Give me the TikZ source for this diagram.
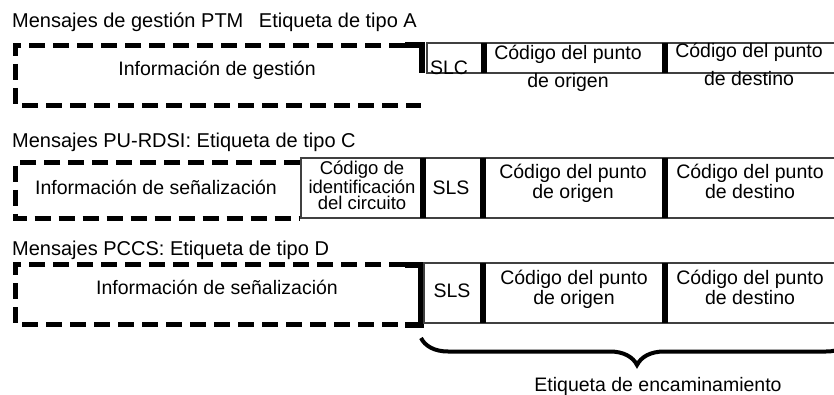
\documentclass[tikz,border=0pt]{standalone}
\usepackage{fontspec}
\setmainfont{Liberation Sans}
\usetikzlibrary{decorations.pathreplacing}
\begin{document}
\begin{tikzpicture}[x=1pt,y=-1pt,
  txt/.style={inner sep=0pt, anchor=base, font=\fontsize{19.5}{20}\selectfont, align=center},
  txtA/.style={txt, font=\fontsize{19.5}{28}\selectfont},
  cictxt/.style={txt, font=\fontsize{18.5}{17}\selectfont},
  titletxt/.style={inner sep=0pt, anchor=base west, font=\fontsize{20}{24}\selectfont},
  dashbox/.style={draw=black, line width=5pt, dash pattern=on 16pt off 8pt},
  thinbox/.style={draw=black!75, line width=1.1pt},
  bar/.style={draw=black, line width=6pt},
  ]
\useasboundingbox (0,0) rectangle (834,395);
\clip (0,0) rectangle (834,395);
% ---------- Row A ----------
\node[titletxt] (tA) at (12,28) {Mensajes de gestión PTM\hspace{0.5em} Etiqueta de tipo A};
\draw[dashbox] (405,45.5) -- (15.5,45.5) -- (15.5,105.5) -- (421,105.5);
\draw[bar] (405,45.5) -- (421.5,45.5) -- (421.5,73);
\draw[thinbox] (427,43) rectangle (850,73);
\draw[bar] (483.5,43) -- (483.5,73);
\draw[bar] (665,43) -- (665,73);
\node[txt] (infoA) at (217,76) {Información de gestión};
\node[txt] (slcA) at (449,75) {SLC};
\node[txtA] (origA) at (568,88) {Código del punto\\de origen};
\node[txtA] (destA) at (749,86) {Código del punto\\de destino};
% ---------- Row C ----------
\node[titletxt] (tC) at (12,148) {Mensajes PU-RDSI: Etiqueta de tipo C};
\draw[dashbox] (300,162.5) -- (15.5,162.5) -- (15.5,219) -- (300,219);
\draw[thinbox] (301,158) rectangle (850,218);
\draw[bar] (422.5,158) -- (422.5,218);
\draw[bar] (483,158) -- (483,218);
\draw[bar] (665,158) -- (665,218);
\node[txt] (infoC) at (156,195) {Información de señalización};
\node[cictxt] (cic) at (362,210) {Código de\\identificación\\del circuito};
\node[txt] (slsC) at (451,195) {SLS};
\node[txt] (origC) at (573,199) {Código del punto\\de origen};
\node[txt] (destC) at (750,199) {Código del punto\\de destino};
% ---------- Row D ----------
\node[titletxt] (tD) at (12,255) {Mensajes PCCS: Etiqueta de tipo D};
\draw[dashbox] (405,264.5) -- (15.5,264.5) -- (15.5,324.5) -- (405,324.5);
\draw[bar] (405,265) -- (421,265) -- (421,325) -- (405,325);
\draw[thinbox] (424,263) rectangle (850,323);
\draw[bar] (483,263) -- (483,323);
\draw[bar] (665,263) -- (665,323);
\node[txt] (infoD) at (217,294) {Información de señalización};
\node[txt] (slsD) at (452,297) {SLS};
\node[txt] (origD) at (574,304) {Código del punto\\de origen};
\node[txt] (destD) at (750,304) {Código del punto\\de destino};
% ---------- Brace ----------
\coordinate (bl) at (421,338);
\coordinate (br) at (853,338);
\draw[line width=4pt, decorate, decoration={brace, amplitude=27pt, mirror}] (bl) -- (br);
\node[txt] (lab) at (658,391) {Etiqueta de encaminamiento};
\end{tikzpicture}
\end{document}
